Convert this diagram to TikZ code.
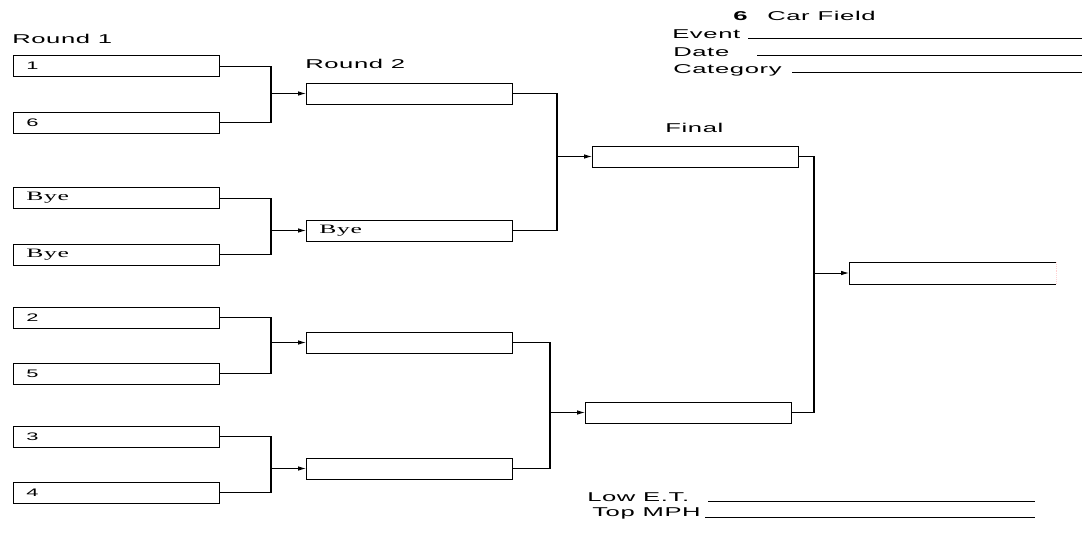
\documentclass[tikz,border=0pt]{standalone}
\usepackage{fontspec}
\usepackage{tikz}
\usetikzlibrary{arrows.meta}
\newfontfamily\wsans[FakeStretch=2.0,LetterSpace=5]{Liberation Sans}
\newfontfamily\wserif[FakeStretch=2.0,LetterSpace=5]{Liberation Serif}
\newcommand{\arw}{-{Latex[length=6pt,width=3.4pt]}}
\newcommand{\bye}{{\wserif\fontsize{9.6}{10}\selectfont Bye}}

\begin{document}
\begin{tikzpicture}[x=.75pt,y=-.75pt,
  slot/.style={draw,line width=.65pt,anchor=west,minimum height=15.75pt,
    text width=135pt,inner xsep=9.75pt,inner ysep=0pt,align=left,
    font=\wsans\fontsize{8.2}{9}\selectfont},
  lbl/.style={anchor=base west,inner sep=0pt,font=\wsans\fontsize{9.6}{10}\selectfont},
  wire/.style={line width=.65pt},
  joint/.style={line width=1.3pt}]
\useasboundingbox (0,0) rectangle (1082,536);
%round one
\node[slot] (r1a) at (13, 66)   {1};
\node[slot] (r1b) at (13,122.5) {6};
\node[slot] (r1c) at (13,198)   {\bye};
\node[slot] (r1d) at (13,254.5) {\bye};
\node[slot] (r1e) at (13,317.5) {2};
\node[slot] (r1f) at (13,373.5) {5};
\node[slot] (r1g) at (13,436.5) {3};
\node[slot] (r1h) at (13,492.5) {4};
%round two
\node[slot] (r2a) at (306, 93.5) {};
\node[slot] (r2b) at (306,230.5) {\bye};
\node[slot] (r2c) at (306,342.5) {};
\node[slot] (r2d) at (306,468.5) {};
%final
\node[slot] (fa) at (592,156.5) {};
\node[slot] (fb) at (585,412.5) {};
\node[slot,draw=none] (win) at (849,273) {};
\draw[wire] (win.north east) -- (win.north west) -- (win.south west) -- (win.south east);
\draw[pink!70,densely dotted] (win.north east) -- (win.south east);
%brackets
\foreach \a/\b/\t in {r1a/r1b/r2a,r1c/r1d/r2b,r1e/r1f/r2c,r1g/r1h/r2d,
                      r2a/r2b/fa,r2c/r2d/fb,fa/fb/win}{
  \path (\t.west) ++(-35,0) coordinate (j);
  \draw[wire] (\a.east) -| (j) |- (\b.east);
  \draw[joint] (j |- \a.east) -- (j |- \b.east);
  \draw[wire,\arw] (j) -- (\t.west);
}
%titles
\node[lbl] (t1) at (12, 43) {Round 1};
\node[lbl] (t2) at (305,68) {Round 2};
\node[lbl] (t3) at (665,132) {Final};
\node[lbl,font=\wsans\bfseries\fontsize{9.6}{10}\selectfont] (nc) at (733,20) {6};
\node[lbl] (cf) at (767,20) {Car Field};
%form lines
\node[lbl] (ev) at (672,38) {Event};
\node[lbl] (dt) at (673,56) {Date};
\node[lbl] (ct) at (673,73) {Category};
\node[lbl] (lo) at (587,501) {Low E.T.};
\node[lbl] (tp) at (592,516) {Top MPH};
\draw[wire] (748,38) -- (1082,38);
\draw[wire] (757,55) -- (1082,55);
\draw[wire] (792,72) -- (1082,72);
\draw[wire] (708,501) -- (1035,501);
\draw[wire] (705,517) -- (1035,517);
\end{tikzpicture}
\end{document}
